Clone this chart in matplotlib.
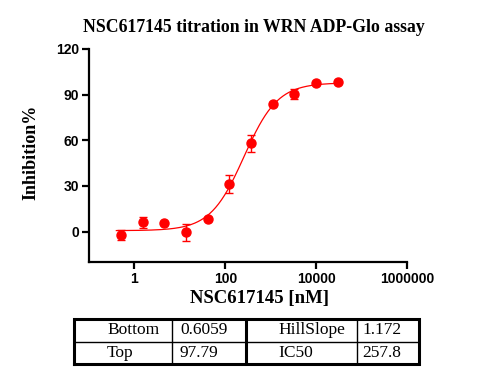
import matplotlib.pyplot as plt
import numpy as np

# concentrations (nM), 3-fold dilution series
conc = [0.51, 1.52, 4.57, 13.7, 41.2, 123, 370, 1111, 3333, 10000, 30000]
inhib = [-2.5, 6.0, 5.5, -0.5, 8.5, 31.5, 58.0, 84.0, 90.5, 97.5, 98.5]
err = [3.3, 3.8, 0.8, 5.7, 1.0, 5.9, 5.5, 1.0, 3.3, 1.0, 1.0]

# fit parameters (4PL)
bottom, top, ic50, hill = 0.6059, 97.79, 257.8, 1.172
table_rows = [["Bottom", "0.6059", "HillSlope", "1.172"],
              ["Top", "97.79", "IC50", "257.8"]]

red = "#ff0000"
serif = "Liberation Serif"
sans = "Liberation Sans"

fig = plt.figure(figsize=(4.8, 3.8), dpi=100)
ax = fig.add_axes([89 / 480, 1 - 262 / 380, 318 / 480, 213 / 380])

xs = np.logspace(np.log10(0.4), np.log10(30000), 300)
fit = bottom + (top - bottom) / (1 + (ic50 / xs) ** hill)
ax.plot(xs, fit, color=red, lw=0.9)
ax.errorbar(conc, inhib, yerr=err, fmt="o", color=red, ms=6.5,
            elinewidth=1, capsize=3, capthick=1)

ax.set_xscale("log")
ax.set_xlim(0.1, 1e6)
ax.set_ylim(-20, 120)
ax.set_xticks([1, 100, 10000, 1000000])
ax.set_xticklabels(["1", "100", "10000", "1000000"])
ax.minorticks_off()
ax.set_yticks([0, 30, 60, 90, 120])
for s in ["top", "right"]:
    ax.spines[s].set_visible(False)
for s in ["left", "bottom"]:
    ax.spines[s].set_linewidth(1.6)
ax.tick_params(width=1.6, length=5, labelsize=10, pad=2)
for lab in ax.get_xticklabels() + ax.get_yticklabels():
    lab.set_fontfamily(sans)
    lab.set_fontweight("bold")

fig.text(260 / 480, 1 - 298 / 380, "NSC617145 [nM]", ha="center",
         va="center", fontfamily=serif, fontweight="bold", fontsize=13.5)
fig.text(31 / 480, 1 - 152 / 380, "Inhibition%", ha="center", va="center",
         rotation=90, fontfamily=serif, fontweight="bold", fontsize=13)
fig.text(254 / 480, 1 - 27 / 380, "NSC617145 titration in WRN ADP-Glo assay",
         ha="center", va="center", fontfamily=serif, fontweight="bold",
         fontsize=12.8)

# parameter table
tax = fig.add_axes([74 / 480, 1 - 364 / 380, 345 / 480, 45 / 380])
tax.set_xlim(0, 345)
tax.set_ylim(0, 2)
tax.axis("off")
col_edges = [0, 98, 172, 283, 345]
pads = [33, 8, 32, 5]
for r, row in enumerate(table_rows):
    for c, txt in enumerate(row):
        tax.text(col_edges[c] + pads[c], 1.5 - r, txt, ha="left", va="center",
                 fontfamily=serif, fontsize=12.5)
tax.plot([0, 345, 345, 0, 0], [0, 0, 2, 2, 0], color="black", lw=2.2,
         clip_on=False, solid_joinstyle="miter")
tax.plot([0, 345], [1, 1], color="black", lw=1)
tax.plot([98, 98], [0, 2], color="black", lw=1)
tax.plot([283, 283], [0, 2], color="black", lw=1)
tax.plot([172, 172], [0, 2], color="black", lw=2.2)

fig.savefig("out.png", dpi=100)
